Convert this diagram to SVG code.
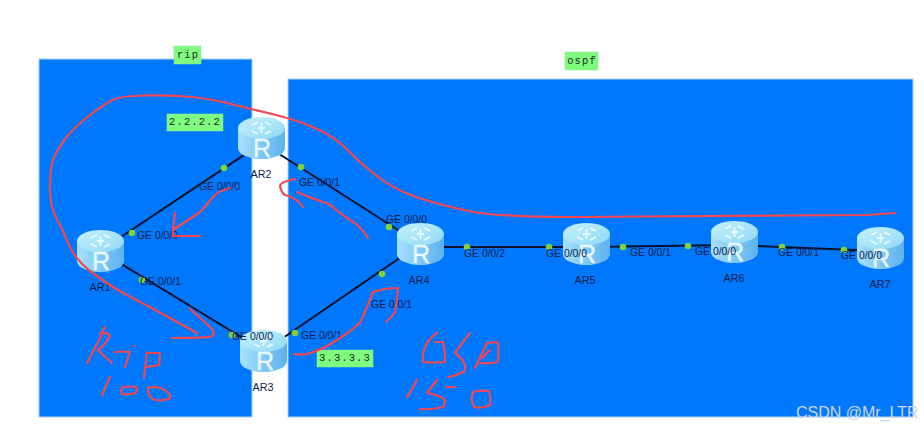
<svg xmlns="http://www.w3.org/2000/svg" xmlns:xlink="http://www.w3.org/1999/xlink" width="924" height="428" viewBox="0 0 924 428">
<style>
.area{fill:#0078fd;stroke:#a8d4f8;stroke-width:1}
.tag{fill:#7ffb7f;stroke:#8fe89f;stroke-width:.5}
.tagt{font:10.5px "Liberation Mono",monospace;letter-spacing:1.1px;fill:#1c2a1c;text-anchor:middle}
.link{stroke:#07102a;stroke-width:2;fill:none}
.dot{fill:#7ed23c}
.ge{font:10.4px "Liberation Sans",Arial,sans-serif;fill:#0e1d48}
.nm{font:10.8px "Liberation Sans",Arial,sans-serif;fill:#0e1d48;text-anchor:middle}
.rl{font:25px "Liberation Sans",Arial,sans-serif;fill:#e8f8ff;text-anchor:middle;stroke:#e8f8ff;stroke-width:.4}
.ink{fill:none;stroke:#f5464f;stroke-width:2.200;stroke-linecap:round;stroke-linejoin:round}
.wm{font:16px "Liberation Sans",Arial,sans-serif;fill:#cfd6de}
</style>
<defs>
<linearGradient id="body" x1="0" x2="1" y1="0" y2="0"><stop offset="0" stop-color="#a8e0fb"/><stop offset=".55" stop-color="#7cc6f4"/><stop offset="1" stop-color="#5eb2ee"/></linearGradient>
<linearGradient id="top" x1="0" x2="1" y1="0" y2="1"><stop offset="0" stop-color="#c4f2fc"/><stop offset="1" stop-color="#8fd8f6"/></linearGradient>
<symbol id="router" width="47" height="43" viewBox="0 0 47 43">
<path d="M0 11V31A23.500 11 0 0 0 47 31V11Z" fill="url(#body)"/>
<ellipse cx="23.500" cy="11" rx="23.500" ry="11" fill="url(#top)"/>
<path d="M14 8l6-3M33 8l-6-3M14 14l6 3M33 14l-6 3M20 11h7M23.500 6v10" stroke="#eefcff" stroke-width="1.800" fill="none"/>
</symbol>
</defs>
<rect width="924" height="428" fill="#fff"/>
<g id="area-rip"><rect class="area" x="39" y="59" width="213" height="358"/><rect class="tag" x="174" y="46" width="27" height="18"/><text class="tagt" x="188" y="58">rip</text></g>
<g id="area-ospf"><rect class="area" x="288" y="79" width="625" height="338"/><rect class="tag" x="565" y="52" width="33" height="18"/><text class="tagt" x="582" y="64">ospf</text></g>
<g id="connectors">
<line class="link" x1="100" y1="251" x2="262" y2="143"/>
<line class="link" x1="100" y1="251" x2="264" y2="351"/>
<line class="link" x1="262" y1="143" x2="420" y2="244"/>
<line class="link" x1="264" y1="351" x2="420" y2="244"/>
<line class="link" x1="420" y1="247" x2="586" y2="247"/>
<line class="link" x1="586" y1="247" x2="734" y2="245"/>
<line class="link" x1="734" y1="245" x2="880" y2="251"/>
</g>
<g id="AR1"><use xlink:href="#router" href="#router" x="77" y="230" width="47" height="43"/><text class="rl" x="101" y="270">R</text><text class="nm" x="100" y="291">AR1</text></g>
<g id="AR2"><use xlink:href="#router" href="#router" x="238" y="117" width="47" height="43"/><text class="rl" x="262" y="157">R</text><text class="nm" x="261" y="178">AR2</text></g>
<g id="AR3"><use xlink:href="#router" href="#router" x="240" y="330" width="47" height="43"/><text class="rl" x="265" y="370">R</text><text class="nm" x="263" y="391">AR3</text></g>
<g id="AR4"><use xlink:href="#router" href="#router" x="397" y="223" width="47" height="43"/><text class="rl" x="421" y="263">R</text><text class="nm" x="419" y="284">AR4</text></g>
<g id="AR5"><use xlink:href="#router" href="#router" x="563" y="223" width="47" height="43"/><text class="rl" x="587" y="263">R</text><text class="nm" x="585" y="284">AR5</text></g>
<g id="AR6"><use xlink:href="#router" href="#router" x="711" y="221" width="47" height="43"/><text class="rl" x="735" y="261">R</text><text class="nm" x="734" y="282">AR6</text></g>
<g id="AR7"><use xlink:href="#router" href="#router" x="857" y="227" width="47" height="43"/><text class="rl" x="881" y="267">R</text><text class="nm" x="880" y="288">AR7</text></g>
<g id="ports">
<circle class="dot" cx="224" cy="168" r="3.300"/><circle class="dot" cx="132" cy="233" r="3.300"/>
<circle class="dot" cx="142" cy="280" r="3.300"/><circle class="dot" cx="232" cy="335" r="3.300"/>
<circle class="dot" cx="301" cy="167" r="3.300"/><circle class="dot" cx="389" cy="227" r="3.300"/>
<circle class="dot" cx="295" cy="333" r="3.300"/><circle class="dot" cx="382" cy="274" r="3.300"/>
<circle class="dot" cx="467" cy="247" r="3.300"/><circle class="dot" cx="549" cy="247" r="3.300"/>
<circle class="dot" cx="623" cy="247" r="3.300"/><circle class="dot" cx="688" cy="246" r="3.300"/>
<circle class="dot" cx="782" cy="247" r="3.300"/><circle class="dot" cx="844" cy="250" r="3.300"/>
<text class="ge" x="199" y="190">GE 0/0/0</text>
<text class="ge" x="137" y="239">GE 0/0/0</text>
<text class="ge" x="140" y="285">GE 0/0/1</text>
<text class="ge" x="232" y="340">GE 0/0/0</text>
<text class="ge" x="301" y="339">GE 0/0/1</text>
<text class="ge" x="299" y="186">GE 0/0/1</text>
<text class="ge" x="386" y="223">GE 0/0/0</text>
<text class="ge" x="371" y="308">GE 0/0/1</text>
<text class="ge" x="464" y="257">GE 0/0/2</text>
<text class="ge" x="546" y="257">GE 0/0/0</text>
<text class="ge" x="630" y="256">GE 0/0/1</text>
<text class="ge" x="695" y="255">GE 0/0/0</text>
<text class="ge" x="778" y="256">GE 0/0/1</text>
<text class="ge" x="841" y="259">GE 0/0/0</text>
</g>
<g id="tags">
<rect class="tag" x="167" y="114" width="56" height="17"/><text class="tagt" x="195" y="125">2.2.2.2</text>
<rect class="tag" x="317" y="350" width="56" height="17"/><text class="tagt" x="345" y="361">3.3.3.3</text>
</g>
<g id="annotations">
<path class="ink" d="M197 333L173.500 320Q150 307 131.500 297.500Q113 288 94 274Q75 260 69 245Q63 230 56.500 218.500Q50 207 50 188.500Q50 170 52.500 161.500Q55 153 64 140.500Q73 128 90 115Q107 102 115 99Q123 96 144 95.500Q165 95 186 96.500Q207 98 227 103Q247 108 272 114Q297 120 316 128.500Q335 137 347.500 150Q360 163 377.500 176.500Q395 190 417.500 197.500Q440 205 468.500 211Q497 217 573 217L867 215L895 213"/>
<path class="ink" d="M190 309L208 325Q217 333 212 336Q208 338 172 338"/>
<path class="ink" d="M230 188Q218 191 213 197Q206 206 200 212Q185 222 173 230L175 213M173 230V236L200 236"/>
<path class="ink" d="M295 179Q280 182 280 186Q281 192 285 195Q297 198 303 207"/>
<path class="ink" d="M297 192Q310 198 323 202Q330 204 334 208Q342 215 350 220Q360 225 368 238"/>
<path class="ink" d="M294 354Q302 355 307 354Q322 350 337 340Q350 332 360 323Q368 305 373 292Q385 288 398 288Q397 302 395 312Q391 318 386 322"/>
<path class="ink" d="M105 327L100 338L87 363M100 333Q108 332 110 336Q106 344 98 350L112 363"/>
<path class="ink" d="M115 352Q122 351 130 352L125 367M134 346h.5"/>
<path class="ink" d="M147 352L144 378M147 353L160 353L159 365L147 367"/>
<path class="ink" d="M110 377L102 395M123 387Q130 386 136 387Q138 392 135 393Q128 395 122 394Q120 390 123 387Z"/>
<path class="ink" d="M148 388Q158 385 166 391Q171 395 170 398Q165 401 155 400Q148 398 148 388Z"/>
<path class="ink" d="M437 333Q429 338 425 347Q422 355 423 362Q434 363 445 362Q445 350 443 342L435 342"/>
<path class="ink" d="M470 333Q462 343 455 353Q462 358 465 365Q466 370 463 372Q456 376 448 377"/>
<path class="ink" d="M487 343L498 342Q499 352 498 362Q489 364 480 363M487 343L475 368M482 358L490 350"/>
<path class="ink" d="M417 380Q412 390 407 397M437 380L427 393Q440 395 445 400Q445 405 443 407Q430 410 420 409M446 387H455"/>
<path class="ink" d="M473 392Q482 390 489 391Q491 398 490 405Q482 409 474 407Q470 400 473 392Z"/>
</g>
<text class="wm" x="796" y="418">CSDN @Mr_LTR</text>
</svg>
